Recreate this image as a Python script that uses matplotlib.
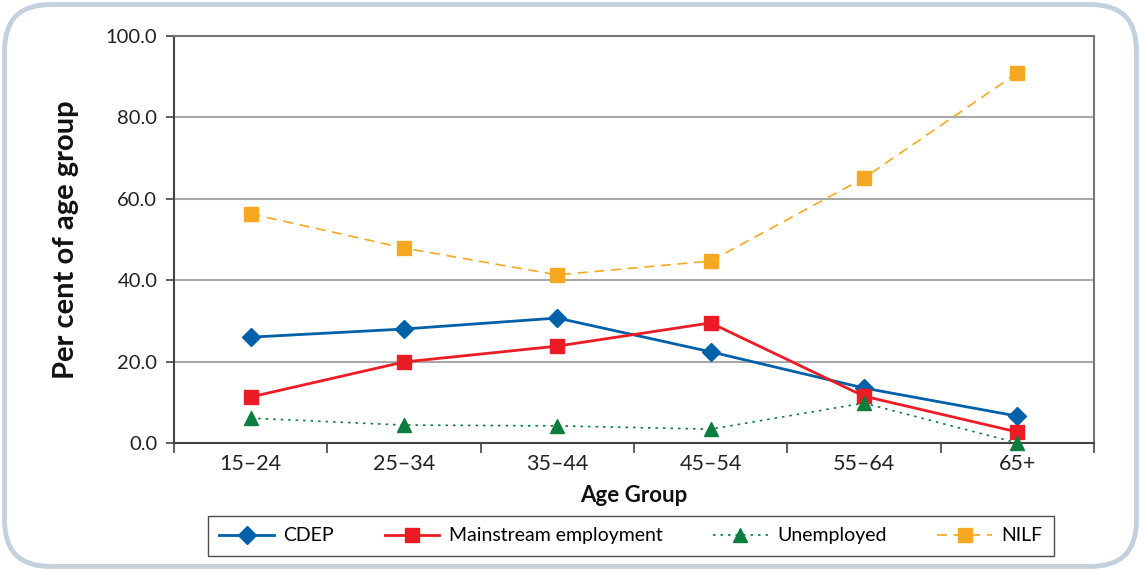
import matplotlib
matplotlib.use("Agg")
import matplotlib.pyplot as plt
from matplotlib.patches import FancyBboxPatch

age_groups = ["15\u201324", "25\u201334", "35\u201344", "45\u201354", "55\u201364", "65+"]
cdep = [26.0, 28.0, 30.7, 22.4, 13.5, 6.6]
mainstream = [11.3, 19.9, 23.8, 29.5, 11.5, 2.7]
unemployed = [6.1, 4.4, 4.2, 3.4, 9.8, 0.0]
nilf = [56.3, 47.9, 41.3, 44.7, 65.1, 90.9]
y_ticks = [0, 20, 40, 60, 80, 100]

plt.rcParams['font.family'] = ['Lato', 'DejaVu Sans']

fig = plt.figure(figsize=(11.41, 5.71), dpi=100)
fig.patch.set_facecolor('white')

# rounded frame
frame = FancyBboxPatch((0.004, 0.008), 0.992, 0.984,
                       boxstyle="round,pad=0,rounding_size=0.04",
                       transform=fig.transFigure, facecolor='none',
                       edgecolor='#c3d1de', linewidth=3.5, mutation_aspect=2.0)
fig.patches.append(frame)

ax = fig.add_axes([0.1525, 0.2242, 0.8063, 0.7128])
x = list(range(len(age_groups)))

ax.plot(x, cdep, color='#0061a9', lw=2.0, marker='D', markersize=9, label='CDEP', zorder=4, clip_on=False)
ax.plot(x, mainstream, color='#ec1c24', lw=2.0, marker='s', markersize=9.5, label='Mainstream employment', zorder=4, clip_on=False)
ax.plot(x, unemployed, color='#0b7d3e', lw=1.2, ls=(0, (1.5, 3)), marker='^', markersize=10, label='Unemployed', zorder=4, clip_on=False)
ax.plot(x, nilf, color='#f7a823', lw=1.2, ls=(0, (6, 4)), marker='s', markersize=9.5, label='NILF', zorder=4, clip_on=False)

ax.set_xlim(-0.5, len(age_groups) - 0.5)
ax.set_ylim(0, 100)
ax.set_yticks(y_ticks)
ax.set_yticklabels([f"{v:.1f}" for v in y_ticks])
ax.yaxis.grid(True, color='#a8a8a8', lw=1.5)
ax.set_axisbelow(True)

ax.set_xticks([i + 0.5 for i in range(-1, len(age_groups))], minor=False)
ax.set_xticklabels([])
ax.set_xticks(x, minor=True)
ax.set_xticklabels(age_groups, minor=True)
ax.tick_params(axis='x', which='minor', length=0, labelsize=15.5, pad=8, colors='#222222')
ax.tick_params(axis='x', which='major', length=7, width=1.2, color='#444444', direction='out')
ax.tick_params(axis='y', length=6, width=1.2, color='#444444', labelsize=14.5, pad=6, labelcolor='#222222')

for side in ['top', 'right']:
    ax.spines[side].set_color('#777777')
    ax.spines[side].set_linewidth(1.5)
for side in ['left', 'bottom']:
    ax.spines[side].set_color('#444444')
    ax.spines[side].set_linewidth(1.5)

ax.set_xlabel('Age Group', fontsize=16, fontweight='bold', labelpad=8, color='#111111')
ax.set_ylabel('Per cent of age group', fontsize=21, fontweight='bold', labelpad=19, color='#111111')

leg = fig.legend(loc='lower left', bbox_to_anchor=(0.182, 0.026, 0.742, 0.069),
                 mode='expand', ncol=4, frameon=True, fancybox=False,
                 fontsize=14, handlelength=2.8, borderaxespad=0, handletextpad=0.5,
                 borderpad=0.6)
leg.get_frame().set_edgecolor('#222222')
leg.get_frame().set_linewidth(1.0)

fig.savefig('out.png', dpi=100, facecolor='white')
